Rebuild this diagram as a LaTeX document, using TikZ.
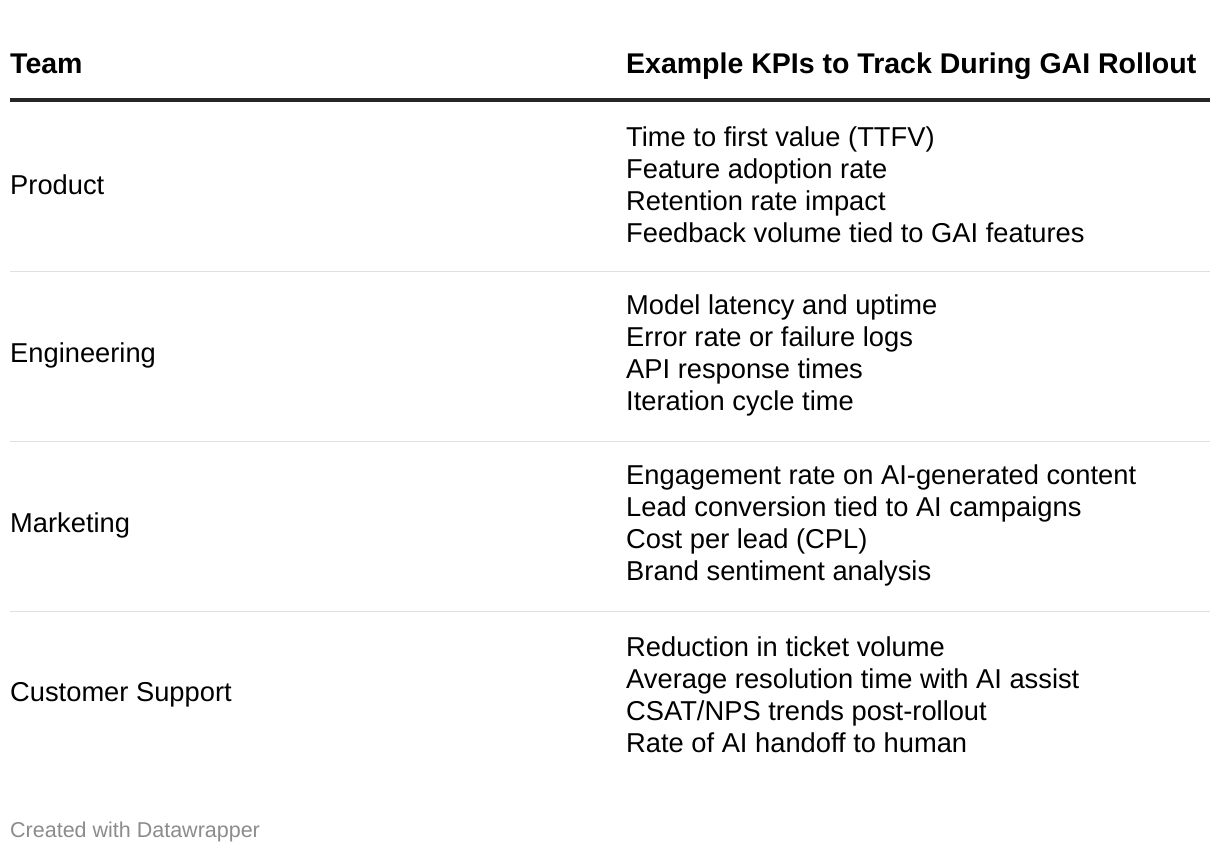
\documentclass[tikz,border=0pt]{standalone}
\usepackage{fontspec}
\setmainfont{Liberation Sans}
\usetikzlibrary{positioning}
\tikzset{
  cell/.style={anchor=west,inner sep=0pt,font=\fontsize{27.3}{32}\selectfont},
  kpis/.style={cell,align=left},
  head/.style={anchor=base west,inner sep=0pt,font=\fontsize{28.5}{32}\selectfont\bfseries},
  rowline/.style={draw=black!12,line width=1pt},
}
\begin{document}
\begin{tikzpicture}[x=1pt,y=-1pt]
  \useasboundingbox[fill=white] (0,0) rectangle (1220,856);
  % header
  \node[head] (h_team) at (10,74) {Team};
  \node[head] (h_kpi) at (626,74) {Example KPIs to Track During GAI Rollout};
  \coordinate (top_l) at (10,100);
  \coordinate (top_r) at (1210,100);
  \draw[line width=3.5pt,black!85] (top_l) -- (top_r);
  % rows
  \foreach \team/\kpi [count=\i] in {
    Product/{Time to first value (TTFV)\\Feature adoption rate\\Retention rate impact\\Feedback volume tied to GAI features},
    Engineering/{Model latency and uptime\\Error rate or failure logs\\API response times\\Iteration cycle time},
    Marketing/{Engagement rate on AI-generated content\\Lead conversion tied to AI campaigns\\Cost per lead (CPL)\\Brand sentiment analysis},
    Customer Support/{Reduction in ticket volume\\Average resolution time with AI assist\\CSAT/NPS trends post-rollout\\Rate of AI handoff to human}} {
    \node[cell] (team_\i) at (10,{15+170*\i}) {\team};
    \node[kpis] (kpi_\i) at (626,{15+170*\i}) {\kpi};
  }
  \foreach \i in {1,2,3} {
    \coordinate (sep_l\i) at (10,{101+170*\i});
    \coordinate (sep_r\i) at (1210,{101+170*\i});
    \draw[rowline] (sep_l\i) -- (sep_r\i);
  }
  % footer
  \node[anchor=west,inner sep=0pt,text=black!45,font=\fontsize{21.5}{24}\selectfont] (credit) at (10,832) {Created with Datawrapper};
\end{tikzpicture}
\end{document}
